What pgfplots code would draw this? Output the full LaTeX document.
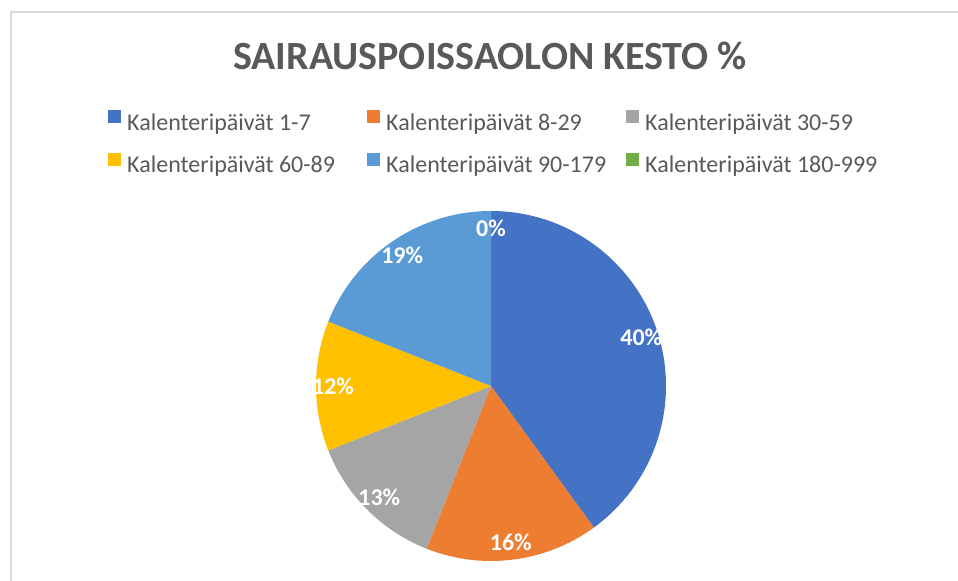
\documentclass[border=0pt]{standalone}
\usepackage{fontspec}
\setmainfont{Carlito}
\usepackage{pgfplots}
\usepackage{pgfplotstable}
\pgfplotsset{compat=1.18}

\definecolor{col0}{HTML}{4472C4}
\definecolor{col1}{HTML}{ED7D31}
\definecolor{col2}{HTML}{A5A5A5}
\definecolor{col3}{HTML}{FFC000}
\definecolor{col4}{HTML}{5B9BD5}
\definecolor{col5}{HTML}{70AD47}
\definecolor{txtgray}{HTML}{595959}
\definecolor{framegray}{HTML}{D9D9D9}

\tikzset{lbl/.style={font=\fontsize{18}{21}\selectfont\bfseries, text=white, inner sep=0pt}}

% sairauspoissaolon kesto, osuudet prosentteina
\pgfplotstableread[col sep=comma]{
label,value
Kalenteripäivät 1-7,40
Kalenteripäivät 8-29,16
Kalenteripäivät 30-59,13
Kalenteripäivät 60-89,12
Kalenteripäivät 90-179,19
Kalenteripäivät 180-999,0
}\piedata

\begin{document}
\begin{tikzpicture}
\begin{axis}[
  at={(0,0)}, anchor=south west,
  width=718.5pt, height=435.75pt, scale only axis,
  xmin=0, xmax=958, ymin=0, ymax=581,
  hide axis, clip=false,
  title={SAIRAUSPOISSAOLON KESTO \%},
  title style={at={(axis description cs:0.5115,0.8897)}, anchor=center, yshift=0pt,
    font=\fontsize{30}{36}\selectfont\bfseries, text=txtgray, inner sep=0pt},
  legend columns=3,
  legend cell align=left,
  legend image code/.code={\fill[#1] (0pt,0pt) rectangle (9.75pt,9.75pt);},
  legend style={draw=none, fill=none, inner sep=0pt,
    at={(axis description cs:0.1127,0.8107)}, anchor=north west,
    font=\fontsize{18}{21}\selectfont, text=txtgray,
    nodes={inner sep=0pt},
    /tikz/every odd column/.append style={column sep=4.5pt},
    row sep=15pt},
]
% kehys
\draw[framegray, line width=1.1pt] (axis cs:11,0) -- (axis cs:11,569) -- (axis cs:958,569);

\def\cum{90}
\pgfplotsforeachungrouped \i in {0,...,5}{%
  \pgfplotstablegetelem{\i}{value}\of\piedata
  \let\secv\pgfplotsretval
  \pgfmathsetmacro\secd{-3.6*\secv}
  \pgfmathsetmacro\secm{\cum+\secd/2}
  \pgfmathsetmacro\labx{491+158*cos(\secm)}
  \pgfmathsetmacro\laby{195+158*sin(\secm)}
  \edef\temp{%
    \noexpand\fill[col\i] (axis cs:491,195) -- ++(\cum:131.25pt)
      arc[start angle=\cum, delta angle=\secd, radius=131.25pt] -- cycle;
    \noexpand\node[lbl] at (axis cs:\labx,\laby) {\secv\noexpand\%};
  }\temp
  \pgfmathsetmacro\cum{\cum+\secd}
  \pgfplotstablegetelem{\i}{label}\of\piedata
  \edef\temp{\noexpand\addlegendimage{fill=col\i, draw=none}%
    \noexpand\addlegendentry{\noexpand\makebox[180pt][l]{\pgfplotsretval}}}\temp
}
\end{axis}
\pgfresetboundingbox
\useasboundingbox (0,0) rectangle (718.5pt,435.75pt);
\end{tikzpicture}
\end{document}
